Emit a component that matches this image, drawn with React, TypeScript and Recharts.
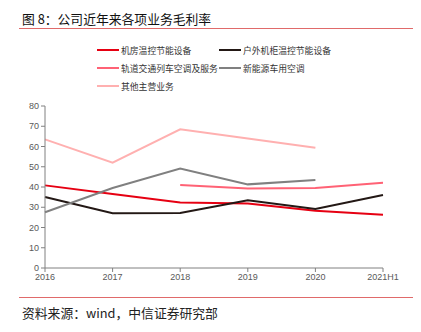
import React from "react";
import { Line, LineChart, XAxis, YAxis } from "recharts";

const years = ["2016", "2017", "2018", "2019", "2020", "2021H1"];
const dataCenter = [40.8, 36.5, 32.3, 31.8, 28.3, 26.3];
const outdoorCabinet = [35.1, 27.0, 27.2, 33.4, 29.1, 36.0];
const railTransit = [null, null, 41.0, 39.3, 39.5, 42.1];
const newEnergy = [27.5, 39.5, 49.1, 41.3, 43.5, null];
const otherBiz = [63.5, 52.0, 68.5, 64.0, 59.4, null];
const yTicks = [0, 10, 20, 30, 40, 50, 60, 70, 80];

const series = [
  { key: "dataCenter", name: "机房温控节能设备", color: "#e60012", values: dataCenter },
  { key: "outdoorCabinet", name: "户外机柜温控节能设备", color: "#231815", values: outdoorCabinet },
  { key: "railTransit", name: "轨道交通列车空调及服务", color: "#ff6275", values: railTransit },
  { key: "newEnergy", name: "新能源车用空调", color: "#808080", values: newEnergy },
  { key: "otherBiz", name: "其他主营业务", color: "#ffb0b0", values: otherBiz },
];

const data = years.map((year, i) => {
  const row: Record<string, string | number | null> = { year };
  series.forEach((s) => {
    row[s.key] = s.values[i];
  });
  return row;
});

const cjk = '"Noto Sans CJK SC", "Noto Sans", sans-serif';
const latin = '"Liberation Sans", Arial, sans-serif';

// legend slots: [left, centre y]
const legendPos = [
  [97, 50],
  [219, 50],
  [97, 68],
  [219, 68],
  [97, 86],
];

function LegendBox() {
  return (
    <>
      {series.map((s, i) => (
        <div
          key={s.key}
          style={{
            position: "absolute",
            left: legendPos[i][0],
            top: legendPos[i][1] - 7,
            height: 14,
            display: "flex",
            alignItems: "center",
            fontFamily: cjk,
            fontSize: 8.8,
            color: "#333",
            whiteSpace: "nowrap",
          }}
        >
          <span style={{ display: "inline-block", width: 22, height: 2, background: s.color, marginRight: 2 }} />
          <span>{s.name}</span>
        </div>
      ))}
    </>
  );
}

export default function App() {
  return (
    <div style={{ position: "fixed", left: 0, top: 0, width: 421, height: 332, background: "#fff" }}>
      <LineChart width={421} height={332} data={data} margin={{ top: 106, right: 38, bottom: 44, left: 15 }}>
        <XAxis
          dataKey="year"
          interval={0}
          height={20}
          stroke="#808080"
          tickSize={4}
          tick={{ fill: "#595959", fontSize: 9, fontFamily: latin }}
        />
        <YAxis
          domain={[0, 80]}
          ticks={yTicks}
          interval={0}
          width={30}
          stroke="#808080"
          tickSize={4}
          tick={{ fill: "#595959", fontSize: 9, fontFamily: latin }}
        />
        {series.map((s) => (
          <Line
            key={s.key}
            dataKey={s.key}
            name={s.name}
            stroke={s.color}
            strokeWidth={2}
            dot={false}
            activeDot={false}
            type="linear"
            isAnimationActive={false}
          />
        ))}
      </LineChart>
      <div style={{ position: "absolute", left: 22, top: 8.5, fontFamily: cjk, fontSize: 12.8, color: "#111", whiteSpace: "nowrap" }}>
        图 8：公司近年来各项业务毛利率
      </div>
      <div style={{ position: "absolute", left: 19, top: 27.5, width: 394, height: 1.5, background: "#e06a6a" }} />
      <LegendBox />
      <div style={{ position: "absolute", left: 19, top: 296.5, width: 394, height: 1.5, background: "#e06a6a" }} />
      <div style={{ position: "absolute", left: 22, top: 302.5, fontFamily: cjk, fontSize: 12.8, color: "#222", whiteSpace: "nowrap" }}>
        资料来源：wind，中信证券研究部
      </div>
    </div>
  );
}
